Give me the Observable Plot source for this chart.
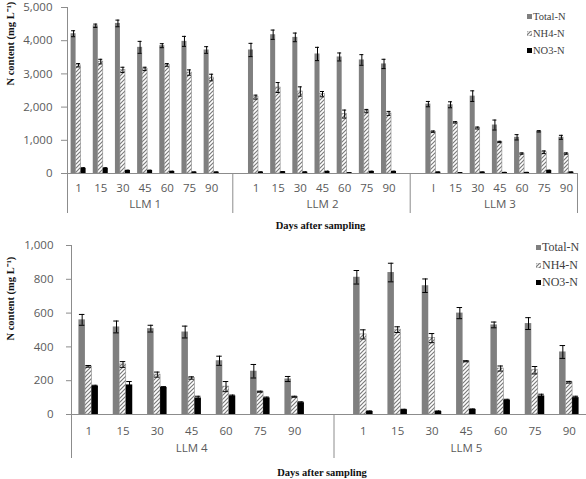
<!DOCTYPE html>
<html><head><meta charset="utf-8">
<script src="https://cdn.jsdelivr.net/npm/d3@7"></script>
<script src="https://cdn.jsdelivr.net/npm/@observablehq/plot@0.6"></script>
<style>
html,body{margin:0;padding:0;background:#fff}
body{width:586px;height:479px;overflow:hidden;position:relative}
#top,#bottom{position:absolute;left:0}
#top{top:0}#bottom{top:238px}
.legend{position:absolute;font-family:"Liberation Serif",serif;color:#404040;white-space:nowrap}
.legend .item{display:flex;align-items:center}
.legend svg{margin-right:1px}
</style>
</head><body>
<svg width="0" height="0" style="position:absolute"><defs>
<pattern id="hatch" patternUnits="userSpaceOnUse" width="4" height="4">
<rect width="4" height="4" fill="#fff"/>
<path d="M0,4 L4,0 M-1,1 L1,-1 M3,5 L5,3" stroke="#7a7a7a" stroke-width="1.2"/>
</pattern></defs></svg>
<div id="top"></div>
<div id="bottom"></div>
<div class="legend" id="legTop" style="left:527px;top:8px;font-size:10.5px;line-height:17px"></div>
<div class="legend" id="legBot" style="left:536px;top:239px;font-size:12px;line-height:17.5px"></div>
<script>
// ---- data ----
const days = [1, 15, 30, 45, 60, 75, 90];
const dayLabels = ["1", "15", "30", "45", "60", "75", "90"];
const dayLabelsLLM3 = ["l", "15", "30", "45", "60", "75", "90"];
const seriesNames = ["Total-N", "NH4-N", "NO3-N"];
const yTicksTop = [0, 1000, 2000, 3000, 4000, 5000];
const yTicksBottom = [0, 200, 400, 600, 800, 1000];
const yLabel = "N content (mg L\u207B\u00B9)";
const xLabel = "Days after sampling";

const llm1Total = [4210, 4450, 4520, 3800, 3850, 3980, 3720];
const llm1TotalErr = [90, 50, 100, 180, 60, 150, 100];
const llm1NH4 = [3260, 3370, 3120, 3150, 3270, 3040, 2890];
const llm1NH4Err = [50, 70, 80, 50, 40, 80, 100];
const llm1NO3 = [155, 155, 90, 90, 60, 40, 40];
const llm1NO3Err = [20, 20, 10, 10, 10, 5, 5];

const llm2Total = [3720, 4180, 4100, 3600, 3510, 3420, 3300];
const llm2TotalErr = [200, 140, 130, 200, 120, 160, 140];
const llm2NH4 = [2300, 2590, 2470, 2390, 1790, 1880, 1810];
const llm2NH4Err = [60, 150, 140, 80, 120, 50, 60];
const llm2NO3 = [40, 50, 40, 60, 20, 60, 60];
const llm2NO3Err = [10, 10, 10, 10, 5, 10, 10];

const llm3Total = [2090, 2070, 2330, 1460, 1090, 1270, 1090];
const llm3TotalErr = [80, 90, 160, 150, 80, 20, 60];
const llm3NH4 = [1260, 1540, 1370, 950, 600, 640, 600];
const llm3NH4Err = [20, 20, 30, 20, 20, 40, 20];
const llm3NO3 = [40, 20, 40, 30, 30, 90, 40];
const llm3NO3Err = [5, 5, 5, 5, 5, 10, 5];

const llm4Total = [560, 518, 508, 488, 318, 256, 210];
const llm4TotalErr = [32, 35, 20, 35, 27, 40, 15];
const llm4NH4 = [285, 296, 236, 216, 165, 135, 105];
const llm4NH4Err = [5, 17, 15, 7, 30, 3, 3];
const llm4NO3 = [168, 175, 160, 98, 110, 98, 70];
const llm4NO3Err = [5, 20, 5, 10, 5, 5, 5];

const llm5Total = [812, 840, 762, 600, 530, 538, 370];
const llm5TotalErr = [40, 55, 40, 33, 17, 35, 38];
const llm5NH4 = [474, 502, 452, 315, 272, 262, 191];
const llm5NH4Err = [27, 17, 27, 3, 15, 22, 5];
const llm5NO3 = [18, 28, 18, 30, 85, 110, 100];
const llm5NO3Err = [3, 3, 3, 3, 5, 10, 8];

const topGroups = [
  {name: "LLM 1", labels: dayLabels, vals: [llm1Total, llm1NH4, llm1NO3], errs: [llm1TotalErr, llm1NH4Err, llm1NO3Err]},
  {name: "LLM 2", labels: dayLabels, vals: [llm2Total, llm2NH4, llm2NO3], errs: [llm2TotalErr, llm2NH4Err, llm2NO3Err]},
  {name: "LLM 3", labels: dayLabelsLLM3, vals: [llm3Total, llm3NH4, llm3NO3], errs: [llm3TotalErr, llm3NH4Err, llm3NO3Err]}
];
const bottomGroups = [
  {name: "LLM 4", labels: dayLabels, vals: [llm4Total, llm4NH4, llm4NO3], errs: [llm4TotalErr, llm4NH4Err, llm4NO3Err]},
  {name: "LLM 5", labels: dayLabels, vals: [llm5Total, llm5NH4, llm5NO3], errs: [llm5TotalErr, llm5NH4Err, llm5NO3Err]}
];

// ---- styles ----
const fills = ["#7f7f7f", "url(#hatch)", "#000000"];
const axisColor = "#8c8c8c";
const textColor = "#5a5a5a";

function chart(groups, cfg) {
  const W = 586;
  const keys = [], gaps = [], tickKeys = [], labelMap = new Map(), rows = [];
  groups.forEach((g, gi) => {
    if (gi > 0) { const k = "gap" + gi; keys.push(k); gaps.push(k); }
    days.forEach((d, i) => {
      const k = g.name + "|" + d;
      keys.push(k); tickKeys.push(k); labelMap.set(k, g.labels[i]);
      seriesNames.forEach((s, si) => rows.push({key: k, series: si, value: g.vals[si][i], err: g.errs[si][i]}));
    });
  });
  const step = (W - cfg.mL - cfg.mR) / keys.length;
  const p = 1 - cfg.barW / step;
  const frameH = cfg.height - cfg.mT - cfg.mB;
  const offs = [-cfg.barW, 0, cfg.barW];
  const marks = [];
  seriesNames.forEach((s, si) => {
    const data = rows.filter(r => r.series === si);
    marks.push(Plot.barY(data, {x: "key", y: "value", fill: fills[si], dx: offs[si],
      stroke: si === 1 ? "#8a8a8a" : null, strokeWidth: 0.6}));
  });
  seriesNames.forEach((s, si) => {
    const data = rows.filter(r => r.series === si);
    marks.push(Plot.ruleX(data, {x: "key", y1: d => Math.max(0, d.value - d.err), y2: d => d.value + d.err, dx: offs[si], stroke: "#000", strokeWidth: 1}));
    marks.push(Plot.tickY(data, {x: "key", y: d => d.value + d.err, dx: offs[si], stroke: "#000", strokeWidth: 1, insetLeft: 0.5, insetRight: 0.5}));
    marks.push(Plot.tickY(data, {x: "key", y: d => Math.max(0, d.value - d.err), dx: offs[si], stroke: "#000", strokeWidth: 1, insetLeft: 0.5, insetRight: 0.5}));
  });
  marks.push(Plot.ruleY([0], {stroke: axisColor}));
  marks.push(Plot.ruleX([keys[0]], {dx: -step / 2, insetBottom: -cfg.ext, stroke: axisColor}));
  marks.push(Plot.ruleX(gaps, {dx: cfg.sepDx, insetTop: frameH, insetBottom: -cfg.ext, stroke: axisColor}));
  if (cfg.rightEdge) marks.push(Plot.ruleX([keys[keys.length - 1]], {dx: step / 2, insetTop: frameH, insetBottom: -cfg.ext, stroke: axisColor}));
  marks.push(Plot.axisY({ticks: cfg.yTicks, tickFormat: d3.format(","), tickSize: cfg.tickSize, tickPadding: cfg.tickPad, label: null, stroke: axisColor, fill: textColor}));
  marks.push(Plot.axisX({ticks: tickKeys, tickFormat: k => labelMap.get(k), tickSize: 0, tickPadding: cfg.dayPad, label: null, fill: textColor}));
  marks.push(Plot.text(groups, {x: g => g.name + "|45", frameAnchor: "bottom", dy: cfg.groupDy, text: "name", fill: textColor}));
  marks.push(Plot.text([xLabel], {frameAnchor: "bottom", dy: cfg.titleDy, dx: cfg.titleDx, text: d => d, fontFamily: "Liberation Serif", fontWeight: "bold", fontSize: 10.5, fill: "#111"}));
  marks.push(Plot.text([yLabel], {frameAnchor: "left", rotate: -90, dx: 10 - cfg.mL, dy: cfg.ylabDy, text: d => d, fontFamily: "Liberation Serif", fontWeight: "bold", fontSize: 10.5, fill: "#111"}));
  return Plot.plot({
    width: W, height: cfg.height,
    marginTop: cfg.mT, marginBottom: cfg.mB, marginLeft: cfg.mL, marginRight: cfg.mR,
    style: {fontFamily: "Open Sans", fontSize: "11.5px", background: "transparent", overflow: "visible"},
    x: {type: "band", domain: keys, paddingInner: p, paddingOuter: p / 2, round: false, axis: null},
    y: {domain: [0, cfg.yMax], nice: false, axis: null},
    marks
  });
}

document.getElementById("top").append(chart(topGroups, {
  height: 238, mT: 7, mB: 65, mL: 67, mR: 9, yMax: 5000, yTicks: yTicksTop, barW: 5,
  tickSize: 6, tickPad: 9, dayPad: 10, groupDy: 34, ext: 40, titleDy: 55, titleDx: -2, ylabDy: -5, sepDx: -1, rightEdge: true
}));
document.getElementById("bottom").append(chart(bottomGroups, {
  height: 241, mT: 7, mB: 65, mL: 71, mR: 0, yMax: 1000, yTicks: yTicksBottom, barW: 6.5,
  tickSize: 5, tickPad: 13, dayPad: 12, groupDy: 37, ext: 44, titleDy: 61, titleDx: -7, ylabDy: 10.5, sepDx: 5, rightEdge: false
}));

// legends
function legend(id, sw) {
  const el = document.getElementById(id);
  seriesNames.forEach((s, i) => {
    const item = document.createElement("div");
    item.className = "item";
    item.innerHTML = `<svg width="${sw}" height="${sw}"><rect width="${sw}" height="${sw}" fill="${fills[i]}" stroke="${i === 1 ? '#8a8a8a' : 'none'}" stroke-width="0.6"/></svg>`;
    item.append(document.createTextNode(s));
    el.append(item);
  });
}
legend("legTop", 5);
legend("legBot", 5);
</script>
</body></html>
